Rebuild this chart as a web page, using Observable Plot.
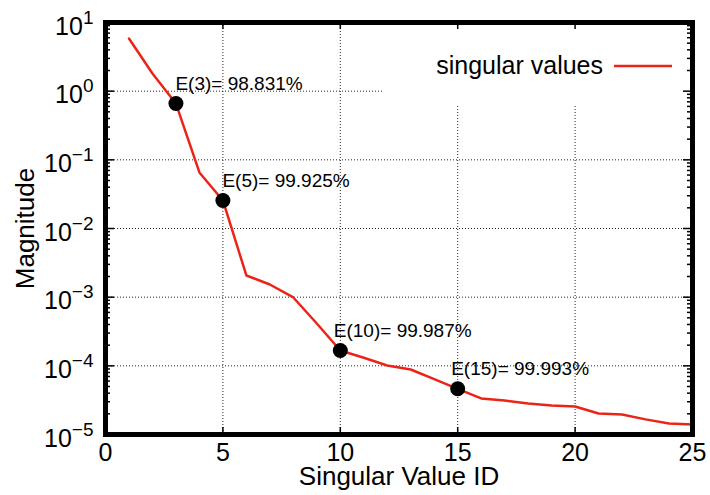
<!DOCTYPE html>
<html>
<head>
<meta charset="utf-8">
<script src="https://cdn.jsdelivr.net/npm/d3@7"></script>
<script src="https://cdn.jsdelivr.net/npm/@observablehq/plot@0.6"></script>
<style>
  html, body { margin: 0; padding: 0; background: #fff; }
  #chart svg { display: block; overflow: visible; }
</style>
</head>
<body>
<div id="chart"></div>
<script>
// Singular value spectrum (index 1..25), log magnitude
const svIds = d3.range(1, 26);
const singularValues = [
  5.85, 1.81, 0.66, 0.0655, 0.0256, 0.00207, 0.00153, 0.00099, 4.14e-4, 1.67e-4,
  1.31e-4, 1.01e-4, 8.85e-5, 6.4e-5, 4.63e-5, 3.35e-5, 3.13e-5, 2.83e-5, 2.65e-5, 2.56e-5,
  2.02e-5, 1.96e-5, 1.66e-5, 1.45e-5, 1.40e-5
];

// Retained-energy annotations at selected truncation ranks
const markedIds = [3, 5, 10, 15];
const energyPct = ["98.831", "99.925", "99.987", "99.993"];

// Axis ticks
const xTicks = [0, 5, 10, 15, 20, 25];
const yExponents = [-5, -4, -3, -2, -1, 0, 1];

const seriesLabel = "singular values";
const xTitle = "Singular Value ID";
const yTitle = "Magnitude";

// Region of the key in data units (grid is not drawn behind it)
const keyLeft = 11.8;
const keyBottom = 0.62;

const W = 710, H = 495;
const mL = 105, mR = 18, mT = 22, mB = 61;
const plotW = W - mL - mR, plotH = H - mT - mB;
const red = "#ec2418";
const font = "'Liberation Sans', Arial, Helvetica, sans-serif";

const series = svIds.map((id, i) => ({id, v: singularValues[i]}));
const marked = markedIds.map((id, i) => ({id, v: singularValues[id - 1], label: `E(${id})= ${energyPct[i]}%`}));
const yMajor = yExponents.map(e => 10 ** e);
const yMinor = [];
for (const e of yExponents.slice(0, -1)) for (let m = 2; m <= 9; m++) yMinor.push(m * 10 ** e);
const xGrid = xTicks.slice(1, -1);
const yGrid = yMajor.slice(1, -1);

const gridStyle = {stroke: "#000", strokeWidth: 1, strokeDasharray: "1,2", strokeOpacity: 0.85};

const chart = Plot.plot({
  width: W,
  height: H,
  marginLeft: mL,
  marginRight: mR,
  marginTop: mT,
  marginBottom: mB,
  style: {fontFamily: font, background: "#fff", color: "#000"},
  x: {domain: [0, 25]},
  y: {type: "log", domain: [1e-5, 10]},
  marks: [
    // dotted grid, cut around the key
    Plot.ruleX(xGrid, {x: d => d, y1: 1e-5, y2: d => (d > keyLeft ? keyBottom : 10), ...gridStyle}),
    Plot.ruleY(yGrid, {y: d => d, x1: 0, x2: d => (d > keyBottom ? keyLeft : 25), ...gridStyle}),

    // inward ticks on all four sides
    Plot.tickY(yMajor, {y: d => d, insetRight: plotW - 9, stroke: "#000", strokeWidth: 1.5}),
    Plot.tickY(yMajor, {y: d => d, insetLeft: plotW - 9, stroke: "#000", strokeWidth: 1.5}),
    Plot.tickY(yMinor, {y: d => d, insetRight: plotW - 5, stroke: "#000", strokeWidth: 1.5}),
    Plot.tickY(yMinor, {y: d => d, insetLeft: plotW - 5, stroke: "#000", strokeWidth: 1.5}),
    Plot.tickX(xGrid, {x: d => d, insetBottom: plotH - 7, stroke: "#000", strokeWidth: 1.5}),
    Plot.tickX(xGrid, {x: d => d, insetTop: plotH - 7, stroke: "#000", strokeWidth: 1.5}),

    // spectrum
    Plot.line(series, {x: "id", y: "v", stroke: red, strokeWidth: 2.5}),
    Plot.dot(marked, {x: "id", y: "v", r: 7.5, fill: "#000", stroke: "none"}),

    // energy annotations
    Plot.text(marked.filter(d => d.id < 10), {
      x: "id", y: "v", text: "label", textAnchor: "start", lineAnchor: "bottom",
      dx: -0.5, dy: -13.5, fontSize: 19, fill: "#000"
    }),
    Plot.text(marked.filter(d => d.id >= 10), {
      x: "id", y: "v", text: "label", textAnchor: "start", lineAnchor: "bottom",
      dx: -6.5, dy: -13.5, fontSize: 19, fill: "#000"
    }),

    // axes (tick labels only; ticks are drawn above)
    Plot.axisX({ticks: xTicks, tickSize: 0, tickPadding: 9, fontSize: 25, label: null, tickFormat: d => String(d)}),
    Plot.axisY({
      ticks: yMajor, tickSize: 0, tickPadding: 12, fontSize: 25, label: null, dy: 4,
      tickFormat: d => `10^${Math.round(Math.log10(d))}`
    }),

    // axis titles
    Plot.text([xTitle], {frameAnchor: "bottom", textAnchor: "middle", lineAnchor: "bottom", dy: 50, fontSize: 26, fill: "#000"}),
    Plot.text([yTitle], {frameAnchor: "left", textAnchor: "middle", lineAnchor: "middle", dx: -80, rotate: -90, fontSize: 26, fill: "#000"}),

    Plot.frame({stroke: "#000", strokeWidth: 5})
  ]
});

// Power-of-ten labels with raised exponents
chart.querySelectorAll("text").forEach(t => {
  const m = /^10\^(-?\d+)$/.exec(t.textContent);
  if (!m) return;
  t.textContent = "";
  const ns = "http://www.w3.org/2000/svg";
  const base = document.createElementNS(ns, "tspan");
  base.textContent = "10";
  const sup = document.createElementNS(ns, "tspan");
  sup.textContent = m[1].replace("-", "\u2212");
  sup.setAttribute("dy", "-11");
  sup.setAttribute("font-size", "19");
  t.appendChild(base);
  t.appendChild(sup);
});

// Key: label with a line sample, top-right inside the frame
const key = d3.select(chart).append("g").attr("font-family", font);
key.append("text")
  .attr("x", 603).attr("y", 74)
  .attr("text-anchor", "end")
  .attr("font-size", 25)
  .attr("fill", "#000")
  .text(seriesLabel);
key.append("line")
  .attr("x1", 614).attr("x2", 672)
  .attr("y1", 66).attr("y2", 66)
  .attr("stroke", red).attr("stroke-width", 2.5);

document.getElementById("chart").appendChild(chart);
</script>
</body>
</html>
